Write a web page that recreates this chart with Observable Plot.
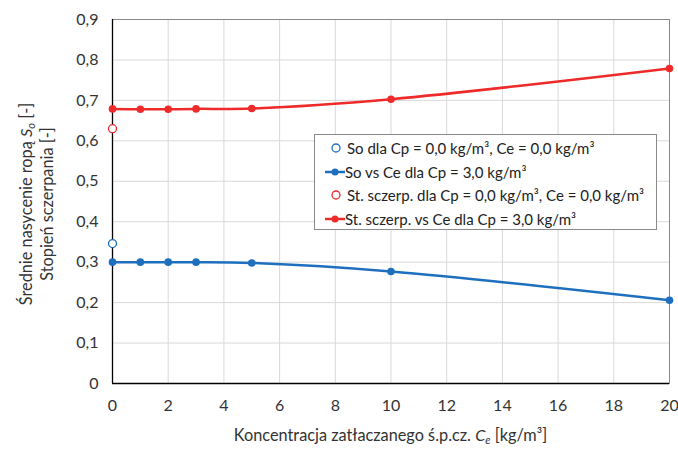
<!DOCTYPE html>
<html><head><meta charset="utf-8">
<script src="https://cdn.jsdelivr.net/npm/d3@7"></script>
<script src="https://cdn.jsdelivr.net/npm/@observablehq/plot@0.6"></script>
<style>
body{margin:0;background:#fff;font-family:Lato,"Open Sans",sans-serif;}
#wrap{position:relative;width:678px;height:449px;}
#legend{position:absolute;left:314px;top:134px;width:343px;height:96px;border:1px solid #8a8a8a;background:#fff;box-sizing:border-box;font-size:15px;color:#222;}
.row{position:absolute;left:8px;height:20px;display:flex;align-items:center;white-space:nowrap;}
.row svg{margin-right:0;}
</style></head>
<body><div id="wrap"><div id="legend"></div></div>
<script>
const ce = [0, 1, 2, 3, 5, 10, 20];
const soValues = [0.300, 0.300, 0.300, 0.300, 0.298, 0.277, 0.206];
const stValues = [0.679, 0.678, 0.678, 0.679, 0.680, 0.703, 0.779];
const soBase = {ce: 0, value: 0.346};
const stBase = {ce: 0, value: 0.630};
const xTicks = [0, 2, 4, 6, 8, 10, 12, 14, 16, 18, 20];
const yTicks = [0, 0.1, 0.2, 0.3, 0.4, 0.5, 0.6, 0.7, 0.8, 0.9];
const legendLabels = [
  "So dla Cp = 0,0 kg/m³, Ce = 0,0 kg/m³",
  "So vs Ce dla Cp = 3,0 kg/m³",
  "St. sczerp. dla Cp = 0,0 kg/m³, Ce = 0,0 kg/m³",
  "St. sczerp. vs Ce dla Cp = 3,0 kg/m³"
];
const blue = "#1f6fbf", red = "#ee2a2a";

const so = ce.map((c, i) => ({ce: c, value: soValues[i]}));
const st = ce.map((c, i) => ({ce: c, value: stValues[i]}));
const fmt = d => d === 0 ? "0" : d3.format(".1f")(d).replace(".", ",");

const chart = Plot.plot({
  width: 678, height: 449,
  marginLeft: 112, marginRight: 9, marginTop: 19, marginBottom: 66,
  style: {fontFamily: "Lato, 'Open Sans', sans-serif", fontSize: "16px", color: "#333"},
  x: {domain: [0, 20], ticks: xTicks, tickSize: 0, tickPadding: 16, label: null, grid: false},
  y: {domain: [0, 0.9], ticks: yTicks, tickSize: 0, tickPadding: 14, tickFormat: fmt, label: null},
  marks: [
    Plot.gridX(xTicks, {stroke: "#d9d9d9", strokeOpacity: 1, strokeWidth: 1}),
    Plot.gridY(yTicks, {stroke: "#d9d9d9", strokeOpacity: 1, strokeWidth: 1}),
    Plot.frame({stroke: "#888", strokeWidth: 1}),
    Plot.ruleX([0], {stroke: "#000", strokeWidth: 1.3}),
    Plot.ruleY([0], {stroke: "#000", strokeWidth: 1.3}),
    Plot.line(so, {x: "ce", y: "value", stroke: blue, strokeWidth: 2.5, curve: "catmull-rom"}),
    Plot.line(st, {x: "ce", y: "value", stroke: red, strokeWidth: 2.5, curve: "catmull-rom"}),
    Plot.dot(so, {x: "ce", y: "value", fill: blue, r: 3.8}),
    Plot.dot(st, {x: "ce", y: "value", fill: red, r: 3.8}),
    Plot.dot([soBase], {x: "ce", y: "value", stroke: blue, fill: "white", r: 4, strokeWidth: 1.3}),
    Plot.dot([stBase], {x: "ce", y: "value", stroke: red, fill: "white", r: 4, strokeWidth: 1.3})
  ]
});
document.getElementById("wrap").prepend(chart);

// axis titles
const svg = d3.select(chart);
const xt = svg.append("text").attr("x", (112 + 669) / 2).attr("y", 441)
  .attr("text-anchor", "middle").attr("font-size", 16.3).attr("fill", "#333");
xt.append("tspan").text("Koncentracja zatłaczanego ś.p.cz. ");
xt.append("tspan").attr("font-style", "italic").text("C");
xt.append("tspan").attr("font-style", "italic").attr("font-size", 11).attr("dy", 3).text("e");
xt.append("tspan").attr("dy", -3).text(" [kg/m³]");

const yg = svg.append("g").attr("transform", "translate(0,204) rotate(-90)")
  .attr("font-size", 16.3).attr("fill", "#333").attr("text-anchor", "middle");
const y1 = yg.append("text").attr("x", 0).attr("y", 31.5);
y1.append("tspan").text("Średnie nasycenie ropą ");
y1.append("tspan").attr("font-style", "italic").text("S");
y1.append("tspan").attr("font-style", "italic").attr("font-size", 11).attr("dy", 3).text("o");
y1.append("tspan").attr("dy", -3).text(" [-]");
yg.append("text").attr("x", 0).attr("y", 53).text("Stopień sczerpania [-]");

// legend
const lg = document.getElementById("legend");
const kinds = [["open", blue], ["line", blue], ["open", red], ["line", red]];
kinds.forEach(([k, c], i) => {
  const row = document.createElement("div");
  row.className = "row";
  row.style.top = (3 + i * 23.5) + "px";
  const sym = k === "open"
    ? `<svg width="24" height="14"><circle cx="13" cy="7" r="4" fill="white" stroke="${c}" stroke-width="1.3"/></svg>`
    : `<svg width="22" height="14"><line x1="2" x2="22" y1="7" y2="7" stroke="${c}" stroke-width="2.5"/><circle cx="12" cy="7" r="3.5" fill="${c}"/></svg>`;
  row.innerHTML = sym + `<span>${legendLabels[i]}</span>`;
  lg.appendChild(row);
});
</script></body></html>
